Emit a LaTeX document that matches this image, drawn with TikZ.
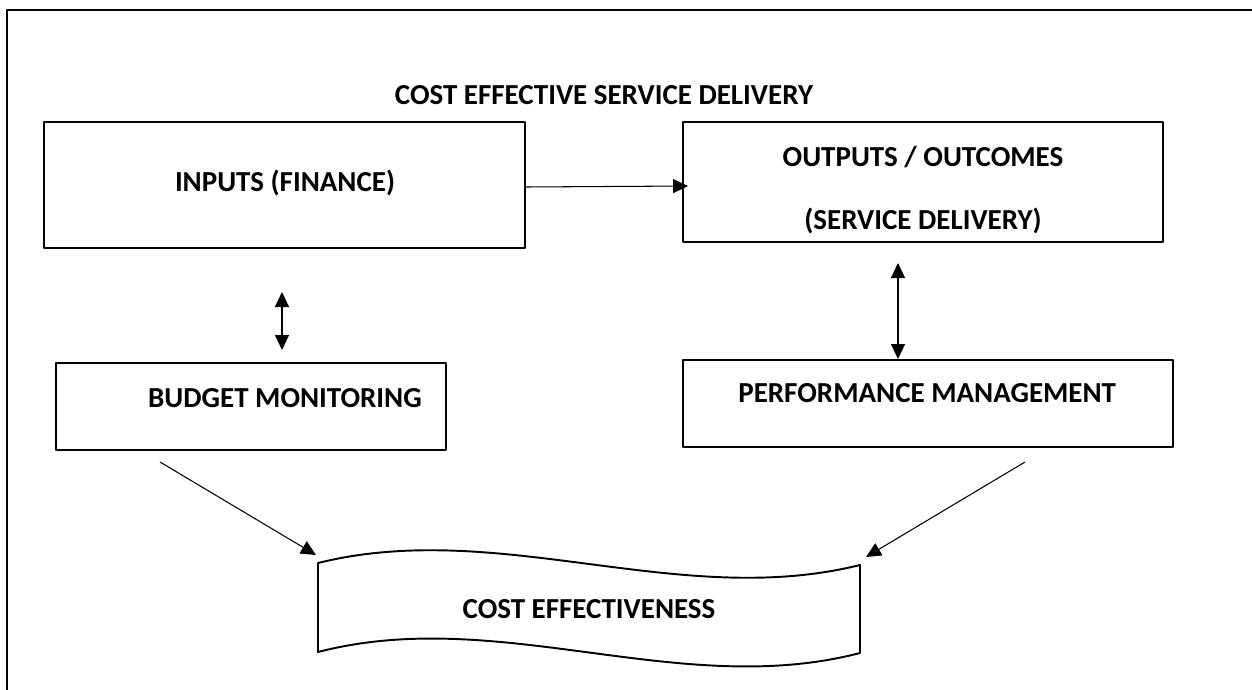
\documentclass[tikz,border=0pt]{standalone}
\usepackage{fontspec}
\setmainfont{Carlito}
\usetikzlibrary{arrows.meta,positioning,calc}

\tikzset{
  box/.style={draw, line width=1.1pt, rectangle, inner sep=0pt},
  lbl/.style={font=\fontsize{16.5}{19}\selectfont\bfseries, inner sep=0pt},
  link/.style={line width=0.6pt, -{Triangle[length=0.3cm,width=0.28cm]}},
  twoway/.style={line width=0.6pt, {Triangle[length=0.3cm,width=0.28cm]}-{Triangle[length=0.3cm,width=0.28cm]}}
}

\begin{document}
\begin{tikzpicture}[x=0.02cm, y=-0.02cm, line join=round]
\useasboundingbox (0,0) rectangle (1252,690);
% frame (open at right and bottom)
\draw[line width=1.7pt] (7,690) -- (7,10) -- (1252,10);

\node[lbl] (title) at (604,95) {COST EFFECTIVE SERVICE DELIVERY};

% boxes
\node[box, minimum width=9.62cm, minimum height=2.52cm] (inputs) at (284.5,185) {};
\node[box, minimum width=9.6cm,  minimum height=2.4cm] (outputs) at (923,182) {};
\node[box, minimum width=7.8cm,  minimum height=1.74cm] (budget) at (251,406.5) {};
\node[box, minimum width=9.8cm,  minimum height=1.74cm] (perf) at (928,403.5) {};

\node[lbl] (inputs-t) at (285,183) {INPUTS (FINANCE)};
\node[lbl] (outputs-t1) at (923,157) {OUTPUTS / OUTCOMES};
\node[lbl] (outputs-t2) at (923,221) {(SERVICE DELIVERY)};
\node[lbl] (budget-t) at (285,398) {BUDGET MONITORING};
\node[lbl, anchor=west] (perf-t) at (738,393) {PERFORMANCE MANAGEMENT};

% cost effectiveness banner
\coordinate (wTL) at (318,563);
\coordinate (wTR) at (860,565);
\coordinate (wBL) at (318,652);
\coordinate (wBR) at (860,653);
\draw[line width=1.1pt] (wTL) .. controls (499,518) and (679,610) .. (wTR)
  -- (wBR) .. controls (679,700) and (499,605) .. (wBL) -- cycle;
\node[lbl] (ce) at (589,609) {COST EFFECTIVENESS};

% connectors
\coordinate (a1) at (282,292);
\coordinate (a2) at (282,350);
\coordinate (b1) at (898,263);
\coordinate (b2) at (898,359);
\coordinate (c1) at (160,462);
\coordinate (c2) at (316,555);
\coordinate (d1) at (1025,462);
\coordinate (d2) at (866,557);
\draw[link] ($(inputs.east)+(0,2)$) -- ($(outputs.west)+(6,4)$);
\draw[twoway] (a1) -- (a2);
\draw[twoway] (b1) -- (b2);
\draw[link] (c1) -- (c2);
\draw[link] (d1) -- (d2);
\end{tikzpicture}
\end{document}
